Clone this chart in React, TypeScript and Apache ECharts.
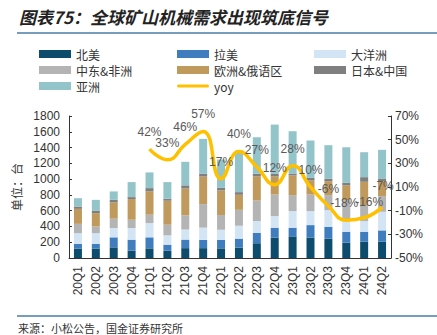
import React, { useEffect, useRef } from "react";
import * as echarts from "echarts";

const categories = ["20Q1","20Q2","20Q3","20Q4","21Q1","21Q2","21Q3","21Q4","22Q1","22Q2","22Q3","22Q4","23Q1","23Q2","23Q3","23Q4","24Q1","24Q2"];
const northAmerica = [120,120,135,93,122,93,125,125,122,131,186,257,274,257,245,194,207,207];
const latinAmerica = [60,60,127,139,140,76,108,105,106,114,130,127,110,160,151,139,126,143];
const oceania = [135,135,118,148,181,118,128,155,130,164,152,147,211,178,211,135,135,236];
const middleEastAfrica = [118,84,118,105,106,135,180,298,186,202,262,274,202,210,190,262,202,198];
const europeCis = [190,169,207,262,295,304,340,350,312,190,307,232,249,178,177,189,296,190];
const japanChina = [29,29,33,25,42,25,40,34,33,34,30,34,25,33,30,34,59,34];
const asia = [106,140,106,190,199,211,298,443,359,527,464,620,536,473,426,451,316,363];
const yoy = [null,null,null,null,42,33,46,57,17,40,27,12,28,10,-6,-18,-16,-7];
const leftTicks = { min: 0, max: 1800, interval: 200 };
const rightTicks = { min: -50, max: 70, interval: 20 };

const barSeries = [
  { name: "北美", data: northAmerica, color: "#0E4C6E" },
  { name: "拉美", data: latinAmerica, color: "#3F7DBE" },
  { name: "大洋洲", data: oceania, color: "#D3E4F4" },
  { name: "中东&非洲", data: middleEastAfrica, color: "#B4B4B4" },
  { name: "欧洲&俄语区", data: europeCis, color: "#BF9A5C" },
  { name: "日本&中国", data: japanChina, color: "#7F7F7F" },
  { name: "亚洲", data: asia, color: "#93C4CA" },
];

const blue = "#4A7DA6";
const axisColor = "#333333";
const yoyColor = "#FFC000";
const textFont = "'Noto Sans CJK SC', 'Liberation Sans', Arial, sans-serif";
// small nudges for crowded labels (index -> [dx, dy])
const labelNudge: Record<number, number[]> = { 15: [-2, 0], 16: [5, 1], 17: [1, -4] };

export default function App() {
  const ref = useRef<HTMLDivElement>(null);
  useEffect(() => {
    if (!ref.current) return;
    const chart = echarts.init(ref.current, null, { renderer: "svg" });
    const legendCommon = {
      orient: "vertical",
      top: 47,
      padding: 0,
      itemWidth: 32,
      itemHeight: 8,
      itemGap: 2,
      textStyle: { fontSize: 12, lineHeight: 14, color: "#333", fontFamily: textFont },
    };
    const yoyData = yoy.map((v, i) =>
      v === null
        ? null
        : labelNudge[i] !== undefined
        ? { value: v, label: { offset: labelNudge[i] } }
        : v
    );
    const option: any = {
      animation: false,
      textStyle: { fontFamily: "'Liberation Sans', Arial, sans-serif" },
      grid: { left: 69, right: 46, top: 116, bottom: 77, containLabel: false },
      legend: [
        { ...legendCommon, left: 39, icon: "rect", data: ["北美", "中东&非洲", "亚洲"] },
        {
          ...legendCommon,
          left: 177,
          data: [
            { name: "拉美", icon: "rect" },
            { name: "欧洲&俄语区", icon: "rect" },
            {
              name: "yoy",
              icon: "path://M1.5,0 H30.5 A1.5,1.5 0 0 1 30.5,3 H1.5 A1.5,1.5 0 0 1 1.5,0 Z",
              itemStyle: { color: yoyColor, opacity: 1 },
            },
          ],
        },
        { ...legendCommon, left: 314, icon: "rect", data: ["大洋洲", "日本&中国"] },
      ],
      graphic: [
        { type: "text", left: 19, top: 8, style: { text: "图表75：全球矿山机械需求出现筑底信号", font: `italic bold 17px ${textFont}`, fill: "#222" } },
        { type: "line", shape: { x1: 17, y1: 33, x2: 437, y2: 33 }, style: { stroke: blue, lineWidth: 1.5 } },
        { type: "line", shape: { x1: 17, y1: 316, x2: 437, y2: 316 }, style: { stroke: blue, lineWidth: 1.5 } },
        { type: "text", left: 18, top: 322, style: { text: "来源：小松公告，国金证券研究所", font: `11px ${textFont}`, fill: "#333" } },
      ],
      xAxis: {
        type: "category",
        data: categories,
        axisLine: { lineStyle: { color: axisColor, width: 1 } },
        axisTick: { inside: true, length: 3, lineStyle: { color: axisColor } },
        axisLabel: { rotate: 90, margin: 8, fontSize: 12, color: "#333" },
      },
      yAxis: [
        {
          type: "value",
          ...leftTicks,
          name: "单位：台",
          nameLocation: "middle",
          nameGap: 36,
          nameTextStyle: { fontSize: 12, color: "#333", fontFamily: textFont },
          axisLine: { show: true, lineStyle: { color: axisColor } },
          axisTick: { show: true, inside: true, length: 3, lineStyle: { color: axisColor } },
          axisLabel: { fontSize: 12, color: "#333", margin: 9, formatter: (v: number) => String(v) },
          splitLine: { show: false },
        },
        {
          type: "value",
          ...rightTicks,
          position: "right",
          axisLine: { show: true, lineStyle: { color: axisColor } },
          axisTick: { show: true, inside: true, length: 3, lineStyle: { color: axisColor } },
          axisLabel: { fontSize: 12, color: "#333", margin: 4, formatter: "{value}%" },
          splitLine: { show: false },
        },
      ],
      series: [
        ...barSeries.map((s) => ({
          name: s.name,
          type: "bar",
          stack: "total",
          barWidth: 8,
          data: s.data,
          itemStyle: { color: s.color },
        })),
        {
          name: "yoy",
          type: "line",
          yAxisIndex: 1,
          data: yoyData,
          smooth: true,
          showSymbol: true,
          symbol: "circle",
          symbolSize: 0.1,
          lineStyle: { color: yoyColor, width: 3.5 },
          itemStyle: { color: yoyColor },
          label: {
            show: true,
            position: "top",
            distance: 11,
            fontSize: 12,
            color: "#595959",
            formatter: (p: any) => `${p.value}%`,
          },
          z: 5,
        },
      ],
    };
    chart.setOption(option);
    return () => chart.dispose();
  }, []);
  return <div ref={ref} style={{ position: "fixed", left: 0, top: 0, width: 437, height: 335, background: "#fff" }} />;
}
